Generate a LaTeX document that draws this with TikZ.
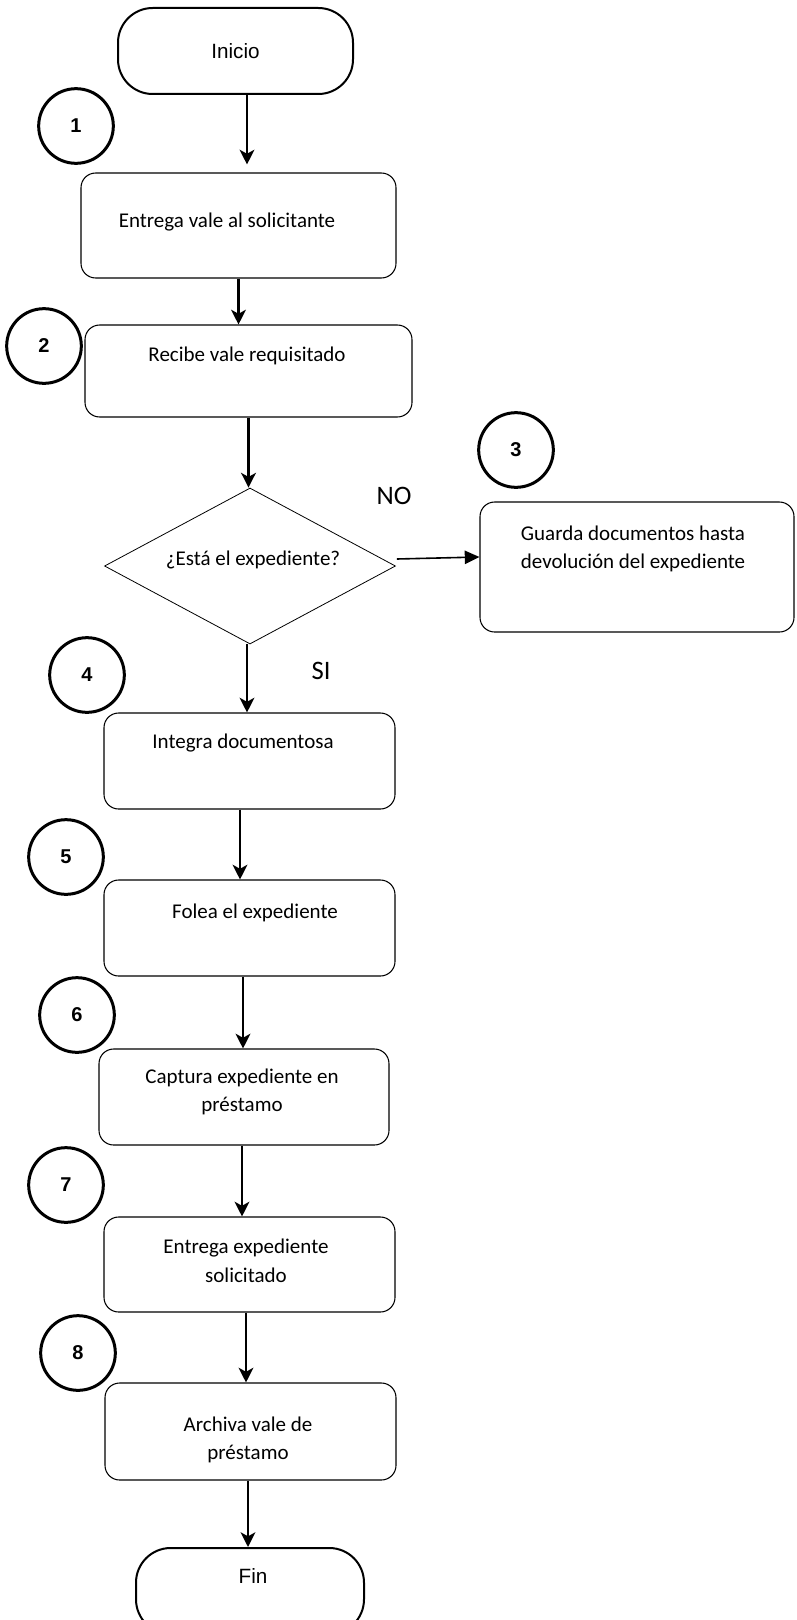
\documentclass[tikz,border=0pt]{standalone}
\usepackage{fontspec}
\setmainfont{Carlito}
\newfontfamily\arialf{Liberation Sans}
\usetikzlibrary{arrows.meta,calc,shapes.geometric}
\begin{document}
\begin{tikzpicture}[x=0.75pt,y=-0.75pt,
  box/.style={draw,line width=0.8pt,rounded corners=11pt,inner sep=0pt},
  term/.style={draw,line width=1.5pt,rounded corners=26pt,inner sep=0pt,font=\arialf\fontsize{15.5}{18}\selectfont},
  num/.style={draw,circle,line width=2.25pt,minimum size=56pt,inner sep=0pt,font=\arialf\bfseries\fontsize{15}{18}\selectfont},
  txt/.style={font=\fontsize{15.75}{21.5}\selectfont,align=center,inner sep=0pt},
  lbl/.style={font=\fontsize{20}{24}\selectfont,inner sep=0pt},
  arr/.style={line width=2pt,-{Stealth[length=11pt,width=11pt,inset=3pt]}},
  noarr/.style={line width=1.2pt,-{Triangle[length=11pt,width=10pt]}},
  ]
\useasboundingbox (0,0) rectangle (796,1620);
\clip (0,0) rectangle (796,1620);

% terminals
\node[term,minimum width={0.75pt*235},minimum height={0.75pt*86}] (inicio) at (235.5,51) {Inicio};
\node[term,minimum width={0.75pt*228},minimum height={0.75pt*86}] (fin) at (250,1591) {};
\node[font=\arialf\fontsize{15.5}{18}\selectfont,inner sep=0pt] (tfin) at (253,1576) {Fin};

% process boxes
\node[box,minimum width={0.75pt*315},minimum height={0.75pt*105}] (b1) at (238.5,225.5) {};
\node[box,minimum width={0.75pt*327},minimum height={0.75pt*92}] (b2) at (248.5,371) {};
\node[box,minimum width={0.75pt*314},minimum height={0.75pt*130}] (b3) at (637,567) {};
\node[box,minimum width={0.75pt*291},minimum height={0.75pt*96}] (b4) at (249.5,761) {};
\node[box,minimum width={0.75pt*291},minimum height={0.75pt*96}] (b5) at (249.5,928) {};
\node[box,minimum width={0.75pt*290},minimum height={0.75pt*96}] (b6) at (244,1097) {};
\node[box,minimum width={0.75pt*291},minimum height={0.75pt*95}] (b7) at (249.5,1264.5) {};
\node[box,minimum width={0.75pt*291},minimum height={0.75pt*97}] (b8) at (250.5,1431.5) {};

% decision
\node[draw,diamond,line width=0.6pt,inner sep=0pt,minimum width={0.75pt*291},minimum height={0.75pt*156}] (d) at (250,566) {};

% texts
\node[txt] (t1) at (227,222) {Entrega vale al solicitante};
\node[txt] (t2) at (247,356) {Recibe vale requisitado};
\node[txt] (td) at (253,560) {¿Está el expediente?};
\node[txt] (t3) at (633,549) {Guarda documentos hasta\\devolución del expediente};
\node[txt] (t4) at (243,743) {Integra documentosa};
\node[txt] (t5) at (255,913) {Folea el expediente};
\node[txt] (t6) at (242,1092) {Captura expediente en\\préstamo};
\node[txt] (t7) at (246,1261) {Entrega expediente\\solicitado};
\node[txt] (t8) at (248,1440) {Archiva vale de\\préstamo};

% labels
\node[lbl] (no) at (394,496) {NO};
\node[lbl] (si) at (321,671) {SI};

% numbered circles
\node[num] (c1) at (76,126) {1};
\node[num] (c2) at (44,346) {2};
\node[num] (c3) at (516,450) {3};
\node[num] (c4) at (87,675) {4};
\node[num] (c5) at (66,857) {5};
\node[num] (c6) at (77,1015) {6};
\node[num] (c7) at (66,1185) {7};
\node[num] (c8) at (78,1353) {8};

% connectors
\draw[arr,shorten >=6pt] ($(inicio.south)+(11.5,0)$) coordinate (s1) -- (s1 |- b1.north);
\draw[arr] (b1.south) -- (b1.south |- b2.north);
\draw[arr] (b2.south) -- (b2.south |- d.north);
\draw[noarr] ($(d.east)+(1,-7)$) -- ($(b3.west)+(0,-10)$);
\draw[arr] ($(d.south)+(-3,0)$) coordinate (s4) -- (s4 |- b4.north);
\draw[arr] ($(b4.south)+(-9.5,0)$) coordinate (s5) -- (s5 |- b5.north);
\draw[arr] ($(b5.south)+(-6.5,0)$) coordinate (s6) -- (s6 |- b6.north);
\draw[arr] ($(b6.south)+(-2,0)$) coordinate (s7) -- (s7 |- b7.north);
\draw[arr] ($(b7.south)+(-3.5,0)$) coordinate (s8) -- (s8 |- b8.north);
\draw[arr] ($(b8.south)+(-2.5,0)$) coordinate (s9) -- (s9 |- fin.north);
\end{tikzpicture}
\end{document}
